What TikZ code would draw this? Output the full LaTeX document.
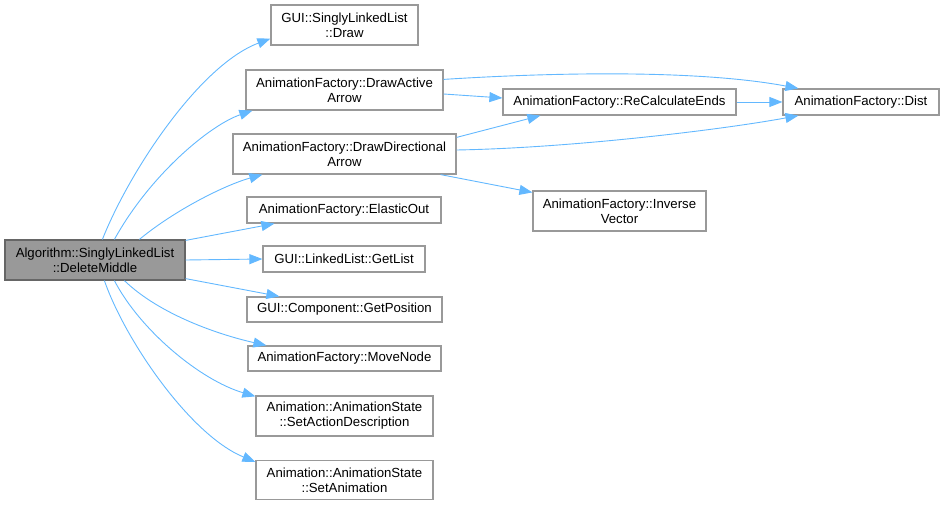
\documentclass[tikz,border=0pt]{standalone}
\usepackage{fontspec}
\setmainfont{Liberation Sans}
\usetikzlibrary{arrows.meta}
\definecolor{edgeblue}{HTML}{63B8FF}
\definecolor{boxborder}{HTML}{999999}
\definecolor{mainfill}{HTML}{999999}
\definecolor{mainborder}{HTML}{666666}
\tikzset{
  fn/.style={draw=boxborder, line width=1.2pt, fill=white, inner sep=0pt, align=center,
    font=\fontsize{13.2}{15}\selectfont, text=black},
  mainfn/.style={fn, fill=mainfill, draw=mainborder},
  call/.style={draw=edgeblue, line width=0.9pt, -{Triangle[length=13pt,width=10pt]}}
}
\begin{document}
\begin{tikzpicture}[x=1pt,y=-1pt]
\useasboundingbox (0,0) rectangle (944,505);
\node[mainfn, minimum width=180pt, minimum height=40pt] (main) at (95,260) {Algorithm::SinglyLinkedList\\::DeleteMiddle};
\node[fn, minimum width=147pt, minimum height=40pt] (draw) at (344.5,25) {GUI::SinglyLinkedList\\::Draw};
\node[fn, minimum width=197pt, minimum height=40pt] (dact) at (344.5,90) {AnimationFactory::DrawActive\\Arrow};
\node[fn, minimum width=223pt, minimum height=40pt] (ddir) at (344.5,154) {AnimationFactory::DrawDirectional\\Arrow};
\node[fn, minimum width=194pt, minimum height=26pt] (elastic) at (344,210) {AnimationFactory::ElasticOut};
\node[fn, minimum width=162pt, minimum height=26pt] (getlist) at (344,259) {GUI::LinkedList::GetList};
\node[fn, minimum width=195pt, minimum height=25pt] (getpos) at (344.5,309.5) {GUI::Component::GetPosition};
\node[fn, minimum width=193pt, minimum height=25pt] (move) at (344.5,358.5) {AnimationFactory::MoveNode};
\node[fn, minimum width=177pt, minimum height=40pt] (sad) at (344.5,416) {Animation::AnimationState\\::SetActionDescription};
\node[fn, minimum width=177pt, minimum height=39pt] (sanim) at (344.5,480) {Animation::AnimationState\\::SetAnimation};
\node[fn, minimum width=233pt, minimum height=26pt] (recalc) at (619.5,102) {AnimationFactory::ReCalculateEnds};
\node[fn, minimum width=156pt, minimum height=26pt] (dist) at (861,102) {AnimationFactory::Dist};
\node[fn, minimum width=173pt, minimum height=40pt] (inv) at (619.5,211) {AnimationFactory::Inverse\\Vector};

% edges from main
\draw[call] ([xshift=98pt]main.north west) .. controls (130,170) and (200,65) .. ([yshift=7pt]draw.south west);
\draw[call] ([xshift=110pt]main.north west) .. controls (150,175) and (210,125) .. ([xshift=7pt]dact.south west);
\draw[call] ([xshift=135pt]main.north west) .. controls (175,210) and (225,185) .. ([xshift=30pt]ddir.south west);
\draw[call] ([yshift=-1pt]main.north east) -- ([xshift=28pt]elastic.south west);
\draw[call] (main.east) -- (getlist.west);
\draw[call] ([yshift=2pt]main.south east) -- ([xshift=33pt]getpos.north west);
\draw[call] ([xshift=120pt]main.south west) .. controls (160,315) and (220,335) .. ([xshift=19pt]move.north west);
\draw[call] ([xshift=110pt]main.south west) .. controls (140,330) and (200,380) .. ([yshift=-1pt]sad.north west);
\draw[call] ([xshift=100pt]main.south west) .. controls (125,340) and (190,435) .. ([yshift=-2pt]sanim.north west);

% edges on the right
\draw[call] ([yshift=-10pt]dact.north east) .. controls (560,72) and (700,70) .. ([xshift=16pt]dist.north west);
\draw[call] ([yshift=-4pt]dact.east) -- ([yshift=4pt]recalc.west);
\draw[call] ([yshift=-4pt]ddir.north east) -- ([xshift=38pt]recalc.south west);
\draw[call] ([yshift=4pt]ddir.east) .. controls (570,148) and (720,130) .. ([xshift=16pt]dist.south west);
\draw[call] ([xshift=-16pt]ddir.south east) -- ([yshift=-2pt]inv.north west);
\draw[call] (recalc.east) -- (dist.west);
\end{tikzpicture}
\end{document}
